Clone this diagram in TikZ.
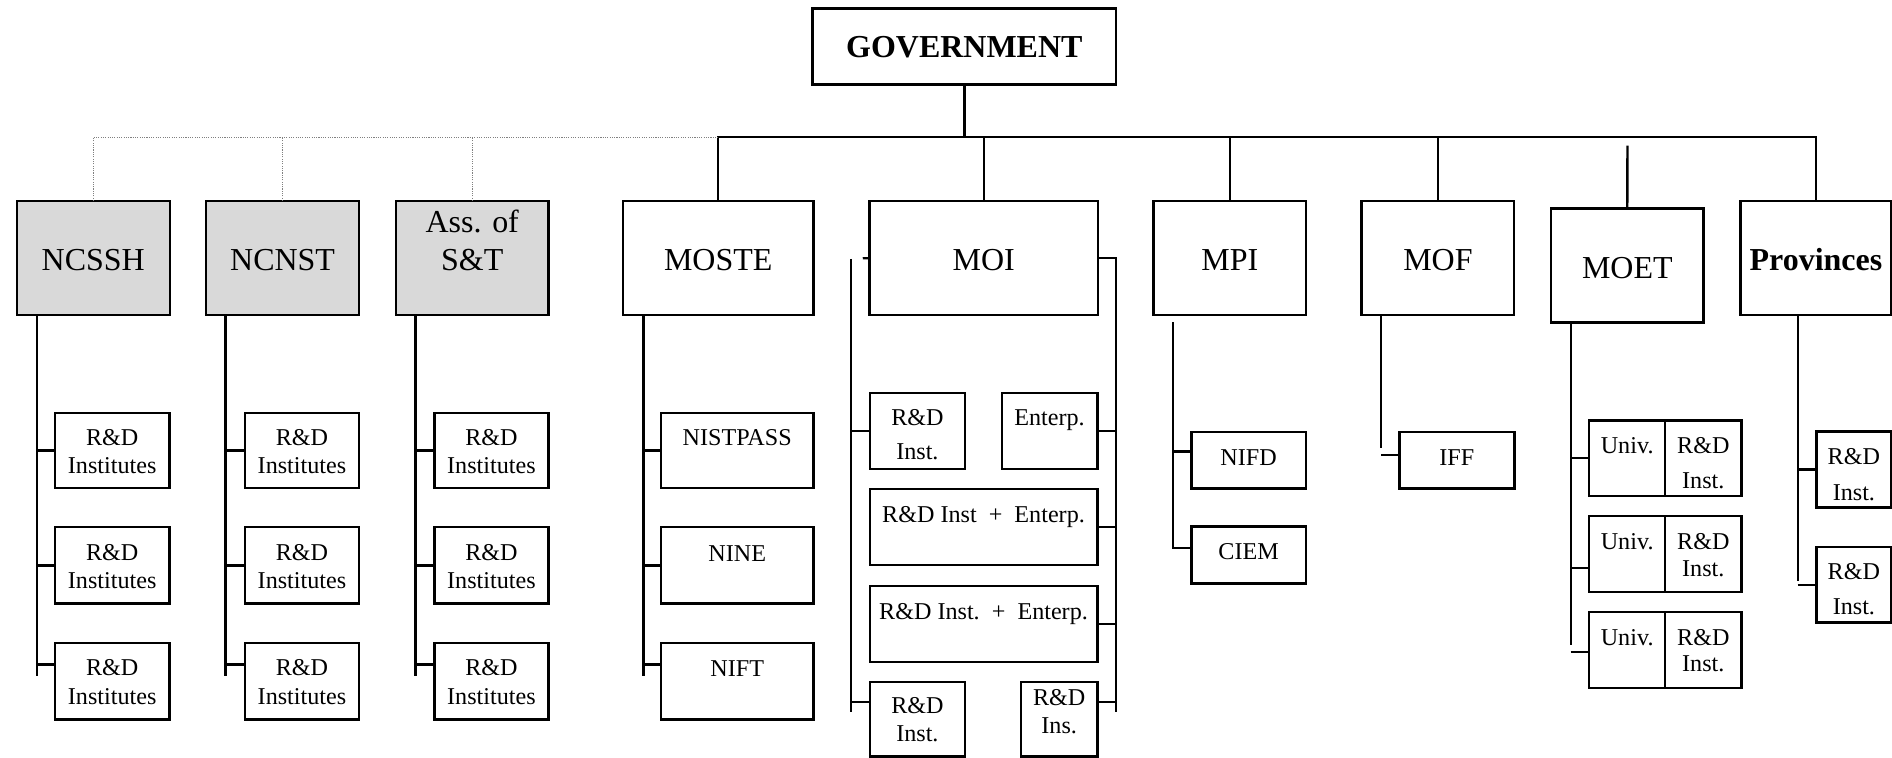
\documentclass[tikz,border=0pt]{standalone}
\usepackage{fontspec}
\setmainfont{Liberation Serif}
\usetikzlibrary{calc}
\definecolor{shadegray}{HTML}{D9D9D9}
\definecolor{dotgray}{HTML}{808080}
\tikzset{
  box/.style={draw=black, line width=2pt, inner sep=0pt, outer sep=0pt, rectangle},
  top/.style={font=\fontsize{26.5}{31.2}\selectfont},
  topb/.style={font=\bfseries\fontsize{26.5}{31.2}\selectfont},
  kid/.style={font=\fontsize{20}{23.5}\selectfont},
  shade/.style={fill=shadegray},
  conn/.style={draw=black, line width=1.9pt},
  dotl/.style={draw=dotgray, line width=0.9pt, densely dotted}
}
\newcommand{\bx}[8]{%
  \pgfmathsetmacro{\bxw}{#5-#3}%
  \pgfmathsetmacro{\bxa}{#7-#4}%
  \pgfmathsetmacro{\bxb}{#6-#7}%
  \pgfmathsetmacro{\bxc}{(#3+#5)/2}%
  \node[box,#2,minimum width=\bxw pt,text height=\bxa pt,text depth=\bxb pt,anchor=base] (#1) at (\bxc,#7) {\begin{tabular}[t]{@{}c@{}}#8\end{tabular}};%
}
\begin{document}
\begin{tikzpicture}[x=1pt,y=-1pt]
\useasboundingbox (0,0) rectangle (1568,628);

% top level
\bx{gov}{topb}{673.4}{6.9}{925}{70.2}{47.6}{GOVERNMENT}
\bx{ncssh}{top,shade}{13.9}{166.6}{140.7}{261.3}{224.3}{NCSSH}
\bx{ncnst}{top,shade}{170.8}{166.6}{297.6}{261.3}{224.3}{NCNST}
\bx{ass}{top,shade}{328.2}{166.6}{454.6}{261.3}{193.1}{Ass. of\\S\&T}
\bx{moste}{top}{516.4}{166.6}{674.1}{261.3}{224.3}{MOSTE}
\bx{moi}{top}{720.7}{166.6}{909.8}{261.3}{224.3}{MOI}
\bx{mpi}{top}{956}{166.6}{1082.4}{261.3}{224.3}{MPI}
\bx{mof}{top}{1128.5}{166.6}{1254.8}{261.3}{224.3}{MOF}
\bx{moet}{top}{1285.5}{172.7}{1411.8}{267.4}{230.5}{MOET}
\bx{prov}{topb}{1442.4}{166.6}{1567.5}{261.3}{224.3}{Provinces}

% R&D institutes under the councils
\foreach \p/\xl/\xr in {a/45.4/140.5, b/203/297.5, c/360/454.5}{
  \bx{\p1}{kid}{\xl}{342.2}{\xr}{404.6}{368.8}{R\&D\\Institutes}
  \bx{\p2}{kid}{\xl}{436.8}{\xr}{500.3}{464.1}{R\&D\\Institutes}
  \bx{\p3}{kid}{\xl}{532.9}{\xr}{596.4}{560}{R\&D\\Institutes}
}

% MOSTE
\bx{m1}{kid}{547.8}{342.2}{674.1}{404.6}{369.4}{NISTPASS}
\bx{m2}{kid}{547.8}{436.8}{674.1}{500.3}{465}{NINE}
\bx{m3}{kid}{547.8}{532.9}{674.1}{596.4}{560.3}{NIFT}

% MOI
\bx{i1}{kid,font=\fontsize{20}{28.4}\selectfont}{720.8}{325.7}{799.8}{388.7}{352.8}{R\&D\\Inst.}
\bx{i2}{kid}{830.2}{325.7}{909.4}{388.7}{352.8}{Enterp.}
\bx{i3}{kid}{720.8}{405.5}{909.4}{468}{432.9}{R\&D Inst~~+~~Enterp.}
\bx{i4}{kid}{720.8}{485.7}{909.4}{548.7}{513}{R\&D Inst.~~+~~Enterp.}
\bx{i5}{kid,font=\fontsize{20}{23}\selectfont}{720.8}{565}{799.8}{627.1}{591.7}{R\&D\\Inst.}
\bx{i6}{kid,font=\fontsize{20}{23}\selectfont}{846.2}{565}{909.4}{627.1}{584.8}{R\&D\\Ins.}

% MPI, MOF
\bx{nifd}{kid}{987.4}{357.8}{1082.1}{404.7}{385.4}{NIFD}
\bx{ciem}{kid}{987.4}{436.2}{1082.1}{483.7}{463.3}{CIEM}
\bx{iff}{kid}{1159.7}{357.8}{1255}{404.7}{385.4}{IFF}

% MOET
\bx{u1}{kid}{1317}{348.4}{1380}{411.3}{375.7}{Univ.}
\bx{r1}{kid,font=\fontsize{20}{29}\selectfont}{1380}{348.4}{1443.2}{411.3}{375.7}{R\&D\\Inst.}
\bx{u2}{kid}{1317}{427.6}{1380}{490.6}{455.3}{Univ.}
\bx{r2}{kid,font=\fontsize{20}{22.6}\selectfont}{1380}{427.6}{1443.2}{490.6}{455.3}{R\&D\\Inst.}
\bx{u3}{kid}{1317}{507.2}{1380}{570.2}{534.6}{Univ.}
\bx{r3}{kid,font=\fontsize{20}{22.1}\selectfont}{1380}{507.2}{1443.2}{570.2}{534.6}{R\&D\\Inst.}

% Provinces
\bx{p1}{kid,font=\fontsize{20}{30.4}\selectfont}{1505.3}{357.5}{1567.5}{420.5}{384.8}{R\&D\\Inst.}
\bx{p2}{kid,font=\fontsize{20}{29}\selectfont}{1505.3}{453.3}{1567.5}{516}{480.1}{R\&D\\Inst.}

% bus
\coordinate (busM) at (595.3,113.8);
\draw[conn] (gov.south) -- (gov.south |- busM);
\draw[conn] (moste.north) |- (prov.north |- busM) -- (prov.north);
\foreach \n in {moi,mpi,mof}{\draw[conn] (\n.north |- busM) -- (\n.north);}
\coordinate (moetTop) at (1348.7,120.7);
\draw[conn] (moetTop) -- (moet.north);
\draw[dotl] (ncssh.north) |- (busM);
\draw[dotl] (ncnst.north) -- (ncnst.north |- busM);
\draw[dotl] (ass.north) -- (ass.north |- busM);

% council subtrees
\foreach \pn/\p/\vx in {ncssh/a/30.4, ncnst/b/187, ass/c/344.4}{
  \coordinate (v\p) at (\vx,560);
  \draw[conn] (\pn.south -| v\p) -- (v\p);
  \draw[conn] (\p1.west -| v\p) -- (\p1.west);
  \draw[conn] (\p2.west -| v\p) -- (\p2.west);
  \coordinate (\p3t) at ($(\p3.north west)!0.279!(\p3.south west)$);
  \draw[conn] (\p3t -| v\p) -- (\p3t);
}

% MOSTE subtree
\coordinate (vm) at (533.2,560);
\draw[conn] (moste.south -| vm) -- (vm);
\draw[conn] (m1.west -| vm) -- (m1.west);
\draw[conn] (m2.west -| vm) -- (m2.west);
\coordinate (m3t) at ($(m3.north west)!0.279!(m3.south west)$);
\draw[conn] (m3t -| vm) -- (m3t);

% MOI subtree
\coordinate (ilt) at (705.3,214.5);
\coordinate (il) at (705.3,590);
\coordinate (ils) at (715,214);
\coordinate (ir) at (924.6,590);
\draw[conn] (ilt) -- (il);
\draw[conn] (ils) -- (moi.west);
\draw[conn] (moi.east) -| (ir);
\draw[conn] (i1.west -| il) -- (i1.west);
\coordinate (i5t) at ($(i5.north west)!0.27!(i5.south west)$);
\draw[conn] (i5t -| il) -- (i5t);
\draw[conn] (i2.east) -- (i2.east -| ir);
\draw[conn] (i3.east) -- (i3.east -| ir);
\draw[conn] (i4.east) -- (i4.east -| ir);
\coordinate (i6t) at ($(i6.north east)!0.27!(i6.south east)$);
\draw[conn] (i6t) -- (i6t -| ir);

% MPI subtree
\coordinate (pvt) at (972.2,267);
\coordinate (nifdt) at ($(nifd.north west)!0.35!(nifd.south west)$);
\coordinate (ciemt) at ($(ciem.north west)!0.383!(ciem.south west)$);
\draw[conn] (pvt) |- (ciemt);
\draw[conn] (nifdt -| pvt) -- (nifdt);

% MOF subtree
\coordinate (fv) at (1144.5,371.6);
\draw[conn] (mof.south -| fv) -- (fv);
\coordinate (ifft) at ($(iff.north west)!0.41!(iff.south west)$);
\draw[conn] (ifft -| fv) -- (ifft);

% MOET subtree
\coordinate (ev) at (1301.7,534.6);
\draw[conn] (moet.south -| ev) -- (ev);
\draw[conn] (u1.west -| ev) -- (u1.west);
\coordinate (u2t) at ($(u2.north west)!0.68!(u2.south west)$);
\draw[conn] (u2t -| ev) -- (u2t);
\coordinate (u3t) at ($(u3.north west)!0.53!(u3.south west)$);
\draw[conn] (u3t -| ev) -- (u3t);

% Provinces subtree
\coordinate (pr) at (1489.8,481.6);
\draw[conn] (prov.south -| pr) -- (pr);
\draw[conn] (p1.west -| pr) -- (p1.west);
\draw[conn] (p2.west -| pr) -- (p2.west);
\end{tikzpicture}
\end{document}
